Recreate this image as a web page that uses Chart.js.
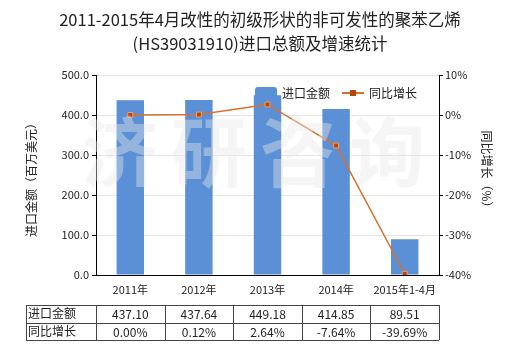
<!DOCTYPE html>
<html>
<head>
<meta charset="utf-8">
<script src="https://cdn.jsdelivr.net/npm/chart.js@4"></script>
<style>
  html, body { margin: 0; padding: 0; background: #fff; }
  #wrap { width: 520px; height: 350px; position: relative; }
</style>
</head>
<body>
<div id="wrap"><canvas id="chart" width="520" height="350"></canvas></div>
<script>
// data
const categories = ["2011年", "2012年", "2013年", "2014年", "2015年1-4月"];
const importValues = [437.10, 437.64, 449.18, 414.85, 89.51];
const growthValues = [0.00, 0.12, 2.64, -7.64, -39.69];
const importLabels = ["437.10", "437.64", "449.18", "414.85", "89.51"];
const growthLabels = ["0.00%", "0.12%", "2.64%", "-7.64%", "-39.69%"];
const titleLines = ["2011-2015年4月改性的初级形状的非可发性的聚苯乙烯", "(HS39031910)进口总额及增速统计"];
const watermark = ["济", "研", "咨", "询"];

const FONT = "'Noto Sans CJK SC', 'Noto Sans', sans-serif";
const barColor = "#5b8fd6";
const lineColor = "#d8702e";

// title, legend, axis titles, table, watermark
const extras = {
  id: "extras",
  afterDatasetsDraw(chart) {
    const ctx = chart.ctx;
    ctx.save();
    ctx.fillStyle = "rgba(232,232,232,0.42)";
    ctx.font = "bold 76px " + FONT;
    ctx.textAlign = "center";
    ctx.textBaseline = "middle";
    watermark.forEach((ch, i) => ctx.fillText(ch, 120 + i * 89, 152));
    ctx.restore();
  },
  afterDraw(chart) {
    const ctx = chart.ctx;
    const x = chart.scales.x;
    ctx.save();
    ctx.fillStyle = "#222";
    ctx.textAlign = "center";
    ctx.textBaseline = "middle";
    ctx.font = "16.5px " + FONT;
    ctx.fillText(titleLines[0], 260, 20);
    ctx.fillText(titleLines[1], 260, 44);

    // axis titles
    ctx.font = "12px " + FONT;
    ctx.save();
    ctx.translate(31, 177);
    ctx.rotate(-Math.PI / 2);
    ctx.fillText("进口金额（百万美元）", 0, 0);
    ctx.restore();
    ctx.save();
    ctx.translate(487, 172);
    ctx.rotate(Math.PI / 2);
    ctx.fillText("同比增长（%）", 0, 0);
    ctx.restore();

    // legend
    ctx.fillStyle = barColor;
    ctx.beginPath();
    ctx.roundRect(255, 87, 22, 12, 3);
    ctx.fill();
    ctx.fillStyle = "#222";
    ctx.textAlign = "left";
    ctx.fillText("进口金额", 282, 93);
    ctx.strokeStyle = lineColor;
    ctx.lineWidth = 2;
    ctx.beginPath();
    ctx.moveTo(342, 93);
    ctx.lineTo(364, 93);
    ctx.stroke();
    ctx.fillStyle = "#b8450f";
    ctx.fillRect(350, 90, 6, 6);
    ctx.fillStyle = "#222";
    ctx.fillText("同比增长", 369, 93);

    // data table
    const top = 305, rowH = 17.5, left = 26;
    const step = (x.right - x.left) / categories.length;
    ctx.strokeStyle = "#444";
    ctx.lineWidth = 1;
    ctx.beginPath();
    for (let r = 0; r <= 2; r++) {
      const yy = Math.round(top + r * rowH) + 0.5;
      ctx.moveTo(left, yy);
      ctx.lineTo(x.right, yy);
    }
    const cols = [left, x.left];
    categories.forEach((c, i) => cols.push(x.left + step * (i + 1)));
    cols.forEach((cx) => {
      const xx = Math.round(cx) + 0.5;
      ctx.moveTo(xx, top);
      ctx.lineTo(xx, top + 2 * rowH);
    });
    ctx.stroke();
    ctx.font = "12px " + FONT;
    ctx.fillStyle = "#222";
    ctx.textAlign = "left";
    ctx.fillText("进口金额", left + 2, top + rowH / 2);
    ctx.fillText("同比增长", left + 2, top + rowH * 1.5);
    ctx.textAlign = "center";
    categories.forEach((c, i) => {
      const cx = x.getPixelForValue(i);
      ctx.fillText(importLabels[i], cx, top + rowH / 2 + 1);
      ctx.fillText(growthLabels[i], cx, top + rowH * 1.5 + 1);
    });
    ctx.restore();
  }
};

new Chart(document.getElementById("chart").getContext("2d"), {
  type: "bar",
  data: {
    labels: categories,
    datasets: [
      {
        type: "line",
        label: "同比增长",
        data: growthValues,
        yAxisID: "y1",
        borderColor: lineColor,
        borderWidth: 1.5,
        pointStyle: "rect",
        pointRadius: 3.5,
        pointBackgroundColor: "#b8450f",
        pointBorderColor: "#f0a060",
        pointBorderWidth: 1,
        tension: 0,
        order: 0,
      },
      {
        label: "进口金额",
        data: importValues,
        yAxisID: "y",
        backgroundColor: barColor,
        barPercentage: 0.4,
        categoryPercentage: 1,
        order: 1,
      },
    ],
  },
  options: {
    responsive: false,
    animation: false,
    layout: { padding: { top: 75, bottom: 0, left: 0, right: 0 } },
    plugins: { legend: { display: false }, tooltip: { enabled: false }, title: { display: false } },
    scales: {
      x: {
        grid: { display: false, drawTicks: true, tickLength: 4, color: "#000" },
        border: { color: "#000", width: 1 },
        ticks: { color: "#222", font: { size: 11, family: FONT }, padding: 4, maxRotation: 0 },
        afterFit: (s) => { s.height = 75; },
      },
      y: {
        position: "left",
        min: 0,
        max: 500,
        ticks: { stepSize: 100, color: "#222", font: { size: 11, family: FONT }, padding: 3, callback: (v) => v.toFixed(1) },
        grid: { color: "#e4e4e4", tickLength: 4, tickColor: "#000" },
        border: { color: "#000", width: 1 },
        afterFit: (s) => { s.width = 96; },
      },
      y1: {
        position: "right",
        min: -40,
        max: 10,
        ticks: { stepSize: 10, color: "#222", font: { size: 11, family: FONT }, padding: 2, callback: (v) => v + "%" },
        grid: { drawOnChartArea: false, tickLength: 4, tickColor: "#000" },
        border: { color: "#000", width: 1 },
        afterFit: (s) => { s.width = 81; },
      },
    },
  },
  plugins: [extras],
});
</script>
</body>
</html>
